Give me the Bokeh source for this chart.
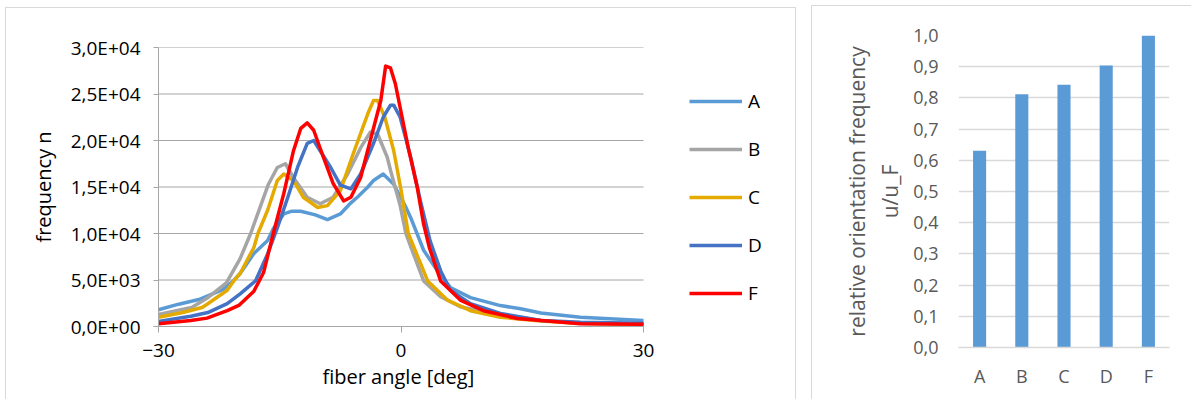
from bokeh.plotting import figure
from bokeh.models import (Range1d, FactorRange, FixedTicker, Legend, LegendItem, Title)
from bokeh.layouts import row, column
from bokeh.embed import file_html
from bokeh.resources import INLINE

# ---------------- data: fiber angle distributions ----------------
series_names = ["A", "B", "C", "D", "F"]
series_colors = ["#5B9BD5", "#A5A5A5", "#E5AA00", "#4472C4", "#FF0000"]

angle_A = [-30, -27.5, -25, -22, -20.7, -19.9, -18.2, -16.5, -15.8, -14.5, -13.5, -12.4, -10.6, -9.1,
           -7.5, -6.2, -5.4, -4.1, -3.4, -2.2, -0.9, -0.3, 0.5, 1.2, 2.8, 4.5, 6.1, 8.6, 12.3, 14.8,
           17.3, 22.2, 30]
freq_A = [1800, 2400, 2900, 4000, 4950, 5700, 7850, 9250, 10500, 12100, 12400, 12400, 12000, 11500,
          12100, 13300, 13900, 15000, 15700, 16400, 15300, 14300, 13000, 11700, 8200, 6000, 4200, 3100,
          2250, 1900, 1450, 1000, 650]

angle_B = [-30, -25.9, -23.9, -21.6, -19.9, -18.6, -16.4, -15.3, -14.3, -13.3, -11.6, -10.0, -8.4,
           -6.6, -5.0, -3.8, -2.9, -1.7, -1.3, -0.1, 0.6, 1.5, 2.8, 4.9, 7.4, 12.3, 17.3, 22.2, 30]
freq_B = [1300, 2050, 3100, 4700, 7300, 10000, 15300, 17100, 17500, 16000, 13900, 13200, 13900,
          16400, 19200, 20900, 20700, 18200, 16800, 13000, 10000, 7900, 4900, 3200, 2100, 1300, 650,
          350, 250]

angle_C = [-30, -27, -24.6, -23.9, -21.5, -20.7, -19.9, -18.2, -17.7, -16.5, -15.3, -14.5, -13.3,
           -12.1, -10.3, -9.1, -7.5, -5.9, -4.1, -3.4, -2.9, -2.0, -0.9, 0, 0.9, 3.3, 5.8, 8.6, 12.3,
           17.3, 22.2, 30]
freq_C = [1000, 1500, 2050, 2450, 3900, 4900, 5700, 8500, 10000, 12500, 15700, 16400, 15700, 13900,
          12800, 13000, 14600, 18600, 22900, 24300, 24300, 22500, 18900, 14700, 10000, 4900, 2800,
          1700, 1000, 600, 350, 250]

angle_D = [-30, -26, -23.9, -21.5, -19.9, -18.0, -16.5, -15.3, -14.0, -12.8, -11.6, -10.8, -10.0,
           -8.7, -7.5, -6.2, -5.0, -3.4, -2.2, -1.3, -0.9, -0.1, 1.2, 2.4, 3.6, 4.9, 6.1, 8.6, 12.3,
           17.3, 22.2, 30]
freq_D = [550, 1100, 1500, 2450, 3500, 4900, 7800, 10600, 13900, 17100, 19700, 20000, 18900, 17100,
          15200, 14800, 16400, 19700, 22500, 23800, 23800, 22500, 18200, 13500, 9200, 6000, 3900,
          2450, 1400, 650, 450, 350]

angle_F = [-30, -26, -24, -21.5, -20, -18.2, -17.0, -15.8, -14.5, -13.3, -12.4, -11.6, -10.8, -9.6,
           -8.4, -7.1, -6.2, -5.0, -3.8, -2.5, -1.9, -1.3, -0.7, 0.3, 0.9, 2.0, 2.8, 3.5, 4.9, 7.4,
           10.2, 14.4, 22.2, 30]
freq_F = [300, 650, 900, 1700, 2300, 3800, 5800, 10000, 14300, 18900, 21300, 21900, 21100, 18200,
          15400, 13500, 13900, 16000, 20000, 24300, 28000, 27800, 26100, 21800, 19200, 15000, 11000,
          8500, 4900, 2800, 1700, 860, 300, 250]

angles = [angle_A, angle_B, angle_C, angle_D, angle_F]
freqs = [freq_A, freq_B, freq_C, freq_D, freq_F]

x_domain = (-30, 30)
x_ticks = [-30, 0, 30]
y_ticks = [0, 5000, 10000, 15000, 20000, 25000, 30000]
y_tick_labels = ["0,0E+00", "5,0E+03", "1,0E+04", "1,5E+04", "2,0E+04", "2,5E+04", "3,0E+04"]

# ---------------- data: relative orientation frequency ----------------
bar_categories = ["A", "B", "C", "D", "F"]
bar_values = [0.631, 0.812, 0.842, 0.904, 1.0]
bar_y_ticks = [0, 0.1, 0.2, 0.3, 0.4, 0.5, 0.6, 0.7, 0.8, 0.9, 1]
bar_y_tick_labels = ["0,0", "0,1", "0,2", "0,3", "0,4", "0,5", "0,6", "0,7", "0,8", "0,9", "1,0"]

FONT = "Open Sans"
FS1 = "19px"
FS1_LABEL = "20px"
FS2 = "18px"
FS2_LABEL = "21px"
PANEL_LINE = "1px solid #D9D9D9"
GRID1 = "#A6A6A6"

# ---------------- left chart ----------------
# plotting area is 485 px for the 60 deg domain; the frame is widened to the
# right so that the legend (which sits right of the curves) is not clipped.
PLOT_W = 485
FRAME_W = 617
x_end = x_domain[0] + (x_domain[1] - x_domain[0]) * FRAME_W / PLOT_W

p1 = figure(width=789, height=391, x_range=Range1d(x_domain[0], x_end), y_range=Range1d(0, 30000),
            output_backend="svg", toolbar_location=None,
            min_border_left=152, min_border_right=789 - 152 - FRAME_W,
            min_border_top=39, min_border_bottom=73)
p1.outline_line_color = None
p1.xgrid.visible = False
p1.ygrid.visible = False

# horizontal grid lines restricted to the data domain
p1.segment(x0=[x_domain[0]] * len(y_ticks), x1=[x_domain[1]] * len(y_ticks),
           y0=y_ticks, y1=y_ticks, line_color=GRID1, line_width=1)

items = []
for name, col, xs, ys in zip(series_names, series_colors, angles, freqs):
    r = p1.line(xs, ys, line_color=col, line_width=3.5, line_join="round")
    items.append(LegendItem(label=name, renderers=[r]))

legend = Legend(items=items, location=(531, 20), padding=0, margin=0, spacing=22,
                glyph_width=53, glyph_height=22, label_height=22, label_standoff=6,
                background_fill_alpha=0, border_line_alpha=0,
                label_text_font=FONT, label_text_font_size=FS1, label_text_color="black")
p1.add_layout(legend)

p1.xaxis.ticker = FixedTicker(ticks=x_ticks)
p1.xaxis.bounds = x_domain
p1.yaxis.ticker = FixedTicker(ticks=y_ticks)
p1.yaxis.major_label_overrides = {v: s for v, s in zip(y_ticks, y_tick_labels)}
p1.yaxis.axis_label = "frequency n"
for ax in (p1.xaxis, p1.yaxis):
    ax.axis_line_color = GRID1
    ax.major_tick_line_color = GRID1
    ax.major_tick_in = 0
    ax.minor_tick_line_color = None
    ax.major_label_text_font = FONT
    ax.major_label_text_font_size = FS1
    ax.major_label_text_color = "black"
    ax.axis_label_text_font = FONT
    ax.axis_label_text_font_size = FS1_LABEL
    ax.axis_label_text_font_style = "normal"
    ax.axis_label_text_color = "black"
p1.xaxis.major_tick_out = 6
p1.yaxis.major_tick_out = 5
p1.xaxis.major_label_standoff = 11
p1.yaxis.major_label_standoff = 13
p1.yaxis.axis_label_standoff = 11

# x-axis title centred under the -30..30 domain (not under the widened frame)
x_title = Title(text="fiber angle [deg]", align="left", offset=164, standoff=2,
                text_font=FONT, text_font_size=FS1_LABEL, text_font_style="normal",
                text_color="black")
p1.add_layout(x_title, "below")

left_panel = column(p1, margin=(7, 0, 0, 5),
                    styles={"border-top": PANEL_LINE, "border-left": PANEL_LINE,
                            "border-right": PANEL_LINE})

# ---------------- right chart ----------------
p2 = figure(width=379, height=393, x_range=FactorRange(*bar_categories), y_range=Range1d(0, 1),
            output_backend="svg", toolbar_location=None,
            min_border_left=146, min_border_right=22, min_border_top=29, min_border_bottom=52)
p2.outline_line_color = None
p2.vbar(x=bar_categories, top=bar_values, width=0.31, fill_color="#5B9BD5", line_color=None)

p2.xgrid.visible = False
p2.ygrid.ticker = FixedTicker(ticks=bar_y_ticks)
p2.ygrid.grid_line_color = "#D9D9D9"
p2.ygrid.grid_line_width = 1.3
p2.yaxis.ticker = FixedTicker(ticks=bar_y_ticks)
p2.yaxis.major_label_overrides = {v: s for v, s in zip(bar_y_ticks, bar_y_tick_labels)}
p2.yaxis.axis_label = "relative orientation frequency\nu/u_F"
for ax in (p2.xaxis, p2.yaxis):
    ax.major_tick_line_color = None
    ax.major_tick_out = 0
    ax.major_tick_in = 0
    ax.minor_tick_line_color = None
    ax.major_label_text_font = FONT
    ax.major_label_text_font_size = FS2
    ax.major_label_text_color = "#595959"
    ax.axis_label_text_font = FONT
    ax.axis_label_text_font_size = FS2_LABEL
    ax.axis_label_text_font_style = "normal"
    ax.axis_label_text_color = "#595959"
p2.yaxis.axis_line_color = None
p2.xaxis.axis_line_color = "#D9D9D9"
p2.xaxis.axis_line_width = 1.3
p2.xaxis.major_label_standoff = 16
p2.yaxis.major_label_standoff = 20
p2.yaxis.axis_label_standoff = 6

right_panel = column(p2, margin=(5, 0, 0, 15),
                     styles={"border-top": PANEL_LINE, "border-left": PANEL_LINE})

layout = row(left_panel, right_panel, spacing=0)
open("out.html", "w").write(file_html(layout, INLINE))
